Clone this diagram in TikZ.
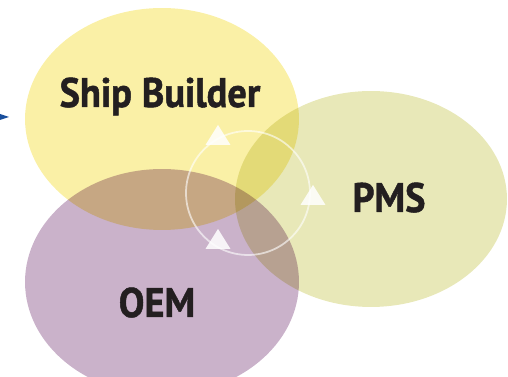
\documentclass[tikz,border=0pt]{standalone}
\usepackage{fontspec}
\setmainfont{PT Sans}
\usetikzlibrary{shapes.geometric,positioning,calc}
\definecolor{sbyellow}{HTML}{FAF0A6}
\definecolor{pmsgreen}{HTML}{E8E8B8}
\definecolor{oempurple}{HTML}{CAB2CA}
\definecolor{labelink}{HTML}{231F20}
\definecolor{pointblue}{HTML}{1A4F9C}
\newcommand{\tagtext}[1]{\scalebox{0.93}[1]{#1}}

\begin{document}
\begin{tikzpicture}[x=0.02cm, y=-0.02cm,
    party/.style={ellipse, inner sep=0pt},
    tag/.style={font=\bfseries\addfontfeature{FakeBold=1.2}\fontsize{23.5}{24}\selectfont, text=labelink, anchor=base},
    tip/.style={isosceles triangle, isosceles triangle apex angle=64, shape border rotate=90,
                fill=white, fill opacity=0.85, draw=none, minimum height=0.4cm, inner sep=0pt}]
    \useasboundingbox (0,0) rectangle (508,377);
    \clip (0,0) rectangle (508,377);
    \begin{scope}[blend group=multiply]
        \node[party, fill=sbyellow, minimum width=5.48cm, minimum height=4.44cm] (SB) at (162,119) {};
        \node[party, fill=pmsgreen, minimum width=5.44cm, minimum height=4.32cm] (PMS) at (371,199) {};
        \node[party, fill=oempurple, minimum width=5.48cm, minimum height=4.52cm] (OEM) at (162,282) {};
    \end{scope}
    % cycle between the three
    \node[circle, draw=white, draw opacity=0.6, line width=1pt, minimum size=2.48cm] (loop) at (248,193) {};
    \node[tip] (t1) at (218,138) {};
    \node[tip] (t2) at (313,198) {};
    \node[tip] (t3) at (218,242) {};
    \node[tag] (sbtext) at (160,107) {\tagtext{Ship Builder}};
    \node[tag] (pmstext) at (389,212) {\tagtext{PMS}};
    \node[tag] (oemtext) at (157,317) {\tagtext{OEM}};
    % pointer from the left
    \coordinate (pin) at (0,117);
    \fill[pointblue] (pin) ++(0,-3) -- ++(9,3) -- ++(-9,3) -- cycle;
\end{tikzpicture}
\end{document}
